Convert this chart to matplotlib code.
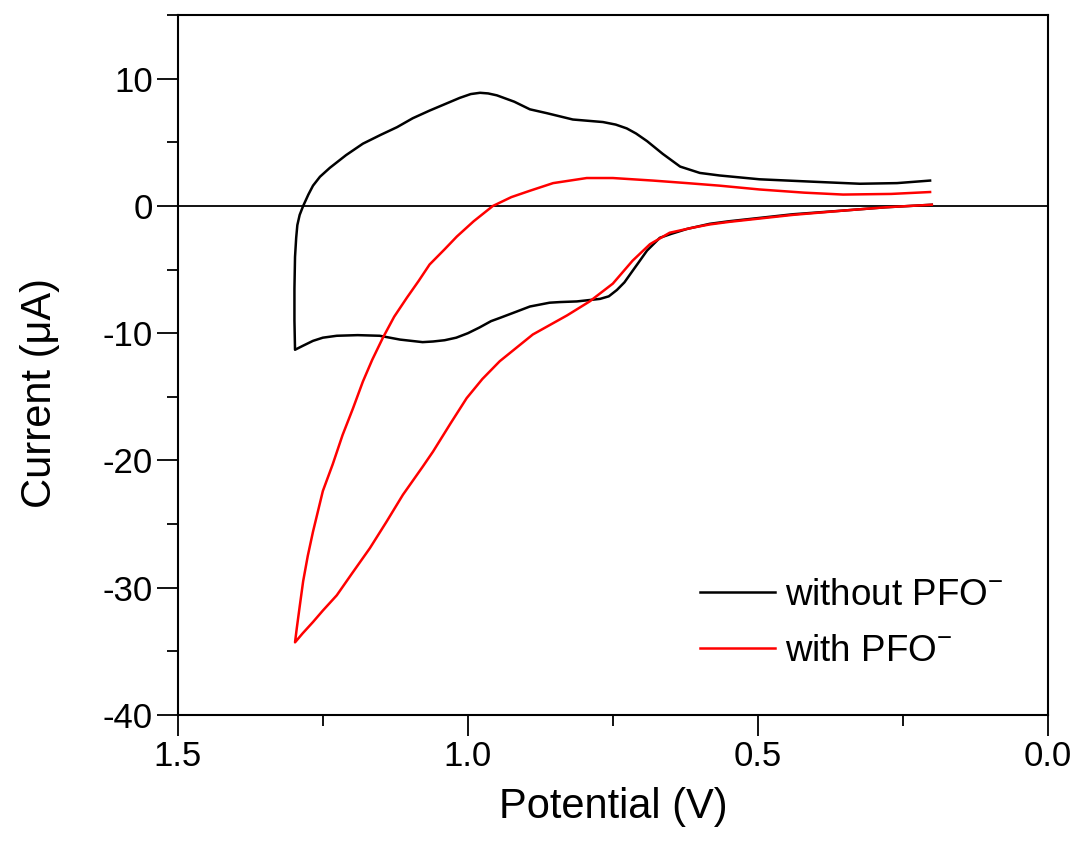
import matplotlib
matplotlib.use("Agg")
from matplotlib import pyplot as plt
from matplotlib.ticker import MultipleLocator, FormatStrFormatter

plt.rcParams['font.family'] = ['Liberation Sans', 'DejaVu Sans']
plt.rcParams['mathtext.fontset'] = 'custom'
plt.rcParams['mathtext.rm'] = 'Liberation Sans'
plt.rcParams['axes.unicode_minus'] = False

# without PFO- : forward scan 0.2 -> 1.3 V, then back to 0.2 V
pot_without = [0.20, 0.28, 0.35, 0.44, 0.50, 0.55, 0.583, 0.622, 0.65, 0.669,
               0.691, 0.705, 0.716, 0.73, 0.743, 0.757, 0.772, 0.812, 0.841, 0.859,
               0.893, 0.916, 0.945, 0.96, 0.98, 1.0, 1.02, 1.04, 1.06, 1.078, 1.117,
               1.152, 1.19, 1.226, 1.25, 1.267, 1.285, 1.298,
               1.299, 1.299, 1.298, 1.296, 1.294, 1.29, 1.284, 1.275, 1.267, 1.255,
               1.238, 1.21, 1.181, 1.15, 1.122, 1.095, 1.066, 1.04, 1.014, 0.995,
               0.979, 0.965, 0.95, 0.92, 0.893, 0.864, 0.819, 0.767, 0.745, 0.726,
               0.71, 0.691, 0.664, 0.634, 0.60, 0.566, 0.497, 0.40, 0.324, 0.26, 0.203]
cur_without = [0.1, -0.1, -0.35, -0.65, -0.95, -1.2, -1.4, -1.8, -2.2, -2.5,
               -3.5, -4.4, -5.1, -6.0, -6.6, -7.1, -7.3, -7.5, -7.55, -7.6,
               -7.9, -8.3, -8.8, -9.05, -9.55, -10.0, -10.35, -10.55, -10.65, -10.7, -10.5,
               -10.2, -10.15, -10.2, -10.35, -10.6, -11.0, -11.3,
               -9.0, -6.5, -4.0, -2.5, -1.5, -0.7, 0.0, 0.9, 1.6, 2.3,
               3.0, 4.0, 4.9, 5.6, 6.2, 6.9, 7.5, 8.0, 8.5, 8.8,
               8.9, 8.85, 8.7, 8.2, 7.6, 7.3, 6.8, 6.6, 6.4, 6.1,
               5.7, 5.1, 4.1, 3.1, 2.6, 2.4, 2.1, 1.9, 1.75, 1.8, 2.0]

# with PFO-
pot_with = [0.20, 0.28, 0.35, 0.44, 0.50, 0.55, 0.583, 0.612, 0.652, 0.686,
            0.716, 0.75, 0.79, 0.829, 0.888, 0.945, 0.975, 1.002, 1.03, 1.06,
            1.078, 1.112, 1.14, 1.169, 1.20, 1.226, 1.25, 1.267, 1.285, 1.298,
            1.295, 1.29, 1.284, 1.276, 1.267, 1.25, 1.233, 1.216, 1.198, 1.181,
            1.165, 1.147, 1.127, 1.105, 1.085, 1.066, 1.04, 1.019, 0.99, 0.957,
            0.925, 0.893, 0.853, 0.795, 0.75, 0.681, 0.622, 0.566, 0.497, 0.42,
            0.353, 0.27, 0.203]
cur_with = [0.1, -0.1, -0.35, -0.7, -1.0, -1.25, -1.45, -1.7, -2.1, -3.0,
            -4.3, -6.1, -7.5, -8.6, -10.1, -12.2, -13.6, -15.1, -17.1, -19.3,
            -20.5, -22.7, -24.8, -26.9, -28.9, -30.6, -31.8, -32.7, -33.6, -34.3,
            -33.2, -31.5, -29.5, -27.5, -25.6, -22.4, -20.3, -18.0, -15.9, -13.8,
            -12.1, -10.4, -8.7, -7.2, -5.9, -4.6, -3.4, -2.4, -1.2, 0.0,
            0.7, 1.2, 1.8, 2.2, 2.2, 2.0, 1.8, 1.6, 1.3, 1.05,
            0.9, 0.95, 1.1]

fig = plt.figure(figsize=(10.78, 8.44), dpi=100)
ax = fig.add_axes([0.165, 0.153, 0.807, 0.829])

ax.axhline(0, color='black', linewidth=1.3)
ax.plot(pot_without, cur_without, color='black', linewidth=1.8, label='without PFO$^{-}$')
ax.plot(pot_with, cur_with, color='#ff0000', linewidth=1.8, label='with PFO$^{-}$')

ax.set_xlim(1.5, 0.0)
ax.set_ylim(-40, 15)
ax.xaxis.set_major_locator(MultipleLocator(0.5))
ax.xaxis.set_minor_locator(MultipleLocator(0.25))
ax.yaxis.set_major_locator(MultipleLocator(10))
ax.yaxis.set_minor_locator(MultipleLocator(5))
ax.xaxis.set_major_formatter(FormatStrFormatter('%.1f'))

ax.tick_params(which='both', direction='out', top=False, right=False, width=1.3)
ax.tick_params(which='major', length=15, labelsize=25, pad=3)
ax.tick_params(which='minor', length=8)
for s in ax.spines.values():
    s.set_linewidth(1.5)

ax.set_xlabel('Potential (V)', fontsize=30, labelpad=10)
ax.set_ylabel('Current (\u03bcA)', fontsize=30)
ax.yaxis.set_label_coords(-0.135, 0.46)

ax.legend(loc='upper left', bbox_to_anchor=(0.6, 0.196), frameon=False, fontsize=26.5,
          handlelength=2.05, handletextpad=0.27, labelspacing=0.57,
          borderaxespad=0, borderpad=0)

plt.savefig('out.png', dpi=100)
plt.close()
